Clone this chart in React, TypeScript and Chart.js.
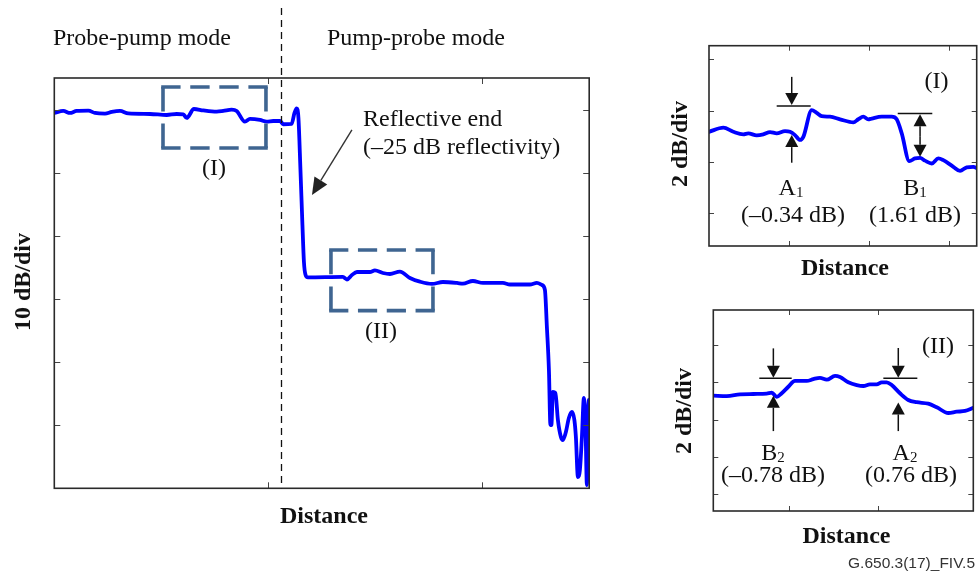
import React, { useEffect, useRef } from 'react';
import { Chart, registerables } from 'chart.js';

Chart.register(...registerables);

// ---------- data ----------
// Main trace (distance units 0..100, level in dB-like units 0..65, 10 units per division)
const mainDistance = [0, 1.68, 2.93, 4.19, 6.36, 7.61, 9.48, 10.73, 12.28, 13.83, 17.89, 21.01, 22.88, 24.11, 24.75, 26.11, 27.85, 30.36, 31.59, 33.16, 34.09, 35.64, 36.58, 38.45, 39.7, 40.93, 42.19, 42.8, 44.37, 44.9, 45.31, 45.64, 46.02, 46.39, 46.67, 46.95, 47.42, 53.96, 54.71, 55.64, 56.58, 59.01, 59.94, 61.44, 62.75, 64.61, 66.49, 68.36, 70.6, 72.65, 75.27, 76.39, 78.26, 80.13, 83.87, 85.18, 88.92, 90.22, 91.16, 91.72, 92.09, 92.47, 92.75, 92.93, 93.21, 93.68, 94.15, 94.71, 95.08, 95.64, 96.2, 96.77, 97.23, 97.51, 97.89, 98.26, 98.64, 99.01, 99.29, 99.57, 99.76, 99.94];
const mainLevel = [59.46, 59.78, 59.46, 59.78, 59.82, 59.46, 59.35, 59.62, 59.78, 59.38, 59.3, 59.14, 59.3, 59.25, 58.67, 60.09, 59.86, 59.67, 59.78, 59.98, 59.78, 58.08, 58.51, 58.35, 58.08, 58.19, 58.19, 57.67, 57.72, 59.46, 60.2, 58.67, 50.43, 41.71, 35.85, 33.87, 33.4, 33.48, 33.08, 33.79, 34.27, 34.27, 34.51, 34.11, 33.95, 34.32, 33.32, 32.73, 32.37, 32.68, 32.53, 32.41, 32.84, 32.53, 32.53, 32.29, 32.29, 32.53, 32.21, 31.42, 25.55, 18.74, 10.03, 10.03, 15.26, 15.1, 10.82, 8.13, 7.65, 8.92, 11.14, 12.09, 10.82, 8.13, 1.79, 2.9, 8.13, 14.31, 10.82, 0.52, 10.82, 13.99];
const mainXTicks = [40, 80];
const mainYTicks = [10, 20, 30, 40, 50, 60];

// Inset (I): zoom of region I, 2 dB per division
const inset1Distance = [0, 1.79, 3.04, 4.29, 4.91, 5.96, 6.79, 7.63, 8.46, 9.5, 10.13, 10.75, 11.38, 11.79, 12.84, 13.46, 14.09, 15.13, 16.38, 18.04, 18.66, 19.29, 19.91, 20.34, 21.59, 22.84, 23.46, 24.09, 25.04, 25.75, 26.38, 27.0, 27.84, 28.66, 29.29, 30.54, 31.38, 32.21, 33.04, 33.5];
const inset1Level = [3.17, 3.33, 3.17, 3.07, 3.11, 3.03, 3.07, 3.16, 3.11, 3.2, 3.17, 3.04, 2.85, 2.97, 4.02, 3.91, 3.78, 3.76, 3.66, 3.54, 3.66, 3.76, 3.66, 3.69, 3.76, 3.76, 3.66, 3.11, 2.02, 2.13, 2.15, 2.04, 1.93, 2.13, 2.06, 1.8, 1.64, 1.78, 1.8, 1.74];
const inset1XTicks = [10, 20, 30];
const inset1YTicks = [0, 2, 4, 6];

// Inset (II): zoom of region II
const inset2Distance = [1.49, 3.0, 4.49, 5.99, 7.49, 8.06, 8.62, 9.18, 9.92, 10.67, 11.99, 12.73, 13.48, 14.24, 15.17, 15.73, 16.66, 17.61, 18.35, 19.1, 19.85, 20.42, 20.98, 21.54, 22.47, 23.4, 24.35, 25.65, 26.6, 27.9, 28.84, 29.78, 30.71];
const inset2Level = [5.28, 5.26, 5.35, 5.37, 5.39, 5.44, 5.22, 5.41, 5.76, 6.07, 6.07, 6.17, 6.24, 6.14, 6.34, 6.28, 6.0, 5.85, 5.8, 5.89, 5.89, 6.0, 6.0, 5.85, 5.41, 5.05, 4.93, 4.85, 4.66, 4.35, 4.42, 4.46, 4.63];
const inset2XTicks = [10, 20];
const inset2YTicks = [0, 2, 4, 6, 8];

// ---------- drawing helpers ----------
type Conv = (v: number) => number;
type Annot = (ctx: CanvasRenderingContext2D, px: Conv, py: Conv) => void;

const SERIF = '"Liberation Serif", "Times New Roman", "DejaVu Serif", serif';
const SANS = '"Liberation Sans", Arial, sans-serif';

function arrow(ctx: CanvasRenderingContext2D, x1: number, y1: number, x2: number, y2: number, len = 12, half = 6.5) {
  const a = Math.atan2(y2 - y1, x2 - x1);
  const bx = x2 - len * Math.cos(a);
  const by = y2 - len * Math.sin(a);
  ctx.beginPath();
  ctx.moveTo(x1, y1);
  ctx.lineTo(bx, by);
  ctx.stroke();
  ctx.beginPath();
  ctx.moveTo(x2, y2);
  ctx.lineTo(bx + half * Math.sin(a), by - half * Math.cos(a));
  ctx.lineTo(bx - half * Math.sin(a), by + half * Math.cos(a));
  ctx.closePath();
  ctx.fill();
}

function seg(ctx: CanvasRenderingContext2D, x1: number, y1: number, x2: number, y2: number) {
  ctx.beginPath();
  ctx.moveTo(x1, y1);
  ctx.lineTo(x2, y2);
  ctx.stroke();
}

function dashedEdge(ctx: CanvasRenderingContext2D, x1: number, y1: number, x2: number, y2: number) {
  const L = Math.hypot(x2 - x1, y2 - y1);
  const n = Math.max(1, Math.round((L + 10) / 30));
  const g = L / (3 * n - 1);
  ctx.setLineDash([2 * g, g]);
  seg(ctx, x1, y1, x2, y2);
  ctx.setLineDash([]);
}

function dashedBox(ctx: CanvasRenderingContext2D, l: number, t: number, r: number, b: number) {
  const h = ctx.lineWidth / 2;
  dashedEdge(ctx, l - h, t, r + h, t);
  dashedEdge(ctx, l - h, b, r + h, b);
  dashedEdge(ctx, l, t, l, b);
  dashedEdge(ctx, r, t, r, b);
}

interface PlotProps {
  left: number; top: number; width: number; height: number;
  pad: { left: number; top: number; right: number; bottom: number };
  xs: number[]; ys: number[];
  xMin: number; xMax: number; yMin: number; yMax: number;
  xTicks: number[]; yTicks: number[]; tickLen: number;
  annotate: Annot;
}

function Plot(p: PlotProps) {
  const ref = useRef<HTMLCanvasElement | null>(null);
  useEffect(() => {
    const canvas = ref.current;
    if (!canvas) return;
    const chart = new Chart(canvas, {
      type: 'line',
      data: {
        datasets: [
          {
            data: p.xs.map((x, i) => ({ x, y: p.ys[i] })),
            borderColor: '#0000ff',
            borderWidth: 3.8,
            pointRadius: 0,
            cubicInterpolationMode: 'monotone',
            borderJoinStyle: 'round',
            borderCapStyle: 'round',
            fill: false,
          },
        ],
      },
      options: {
        animation: false,
        responsive: false,
        devicePixelRatio: 1,
        events: [],
        layout: { padding: p.pad },
        plugins: { legend: { display: false }, tooltip: { enabled: false }, title: { display: false } },
        scales: {
          x: { type: 'linear', min: p.xMin, max: p.xMax, display: false },
          y: { type: 'linear', min: p.yMin, max: p.yMax, display: false },
        },
      },
      plugins: [
        {
          id: 'frameAndNotes',
          afterDatasetsDraw(c: any) {
            const ctx: CanvasRenderingContext2D = c.ctx;
            const a = c.chartArea;
            const sx = c.scales.x;
            const sy = c.scales.y;
            const px = (v: number) => sx.getPixelForValue(v);
            const py = (v: number) => sy.getPixelForValue(v);
            ctx.save();
            // inward tick marks
            ctx.strokeStyle = '#444';
            ctx.lineWidth = 1;
            for (const v of p.xTicks) {
              const x = Math.round(px(v)) + 0.5;
              seg(ctx, x, a.top, x, a.top + p.tickLen);
              seg(ctx, x, a.bottom, x, a.bottom - p.tickLen);
            }
            for (const v of p.yTicks) {
              const y = Math.round(py(v)) + 0.5;
              seg(ctx, a.left, y, a.left + p.tickLen, y);
              seg(ctx, a.right, y, a.right - p.tickLen, y);
            }
            // frame
            ctx.strokeStyle = '#2a2a2a';
            ctx.lineWidth = 1.6;
            ctx.strokeRect(a.left, a.top, a.right - a.left, a.bottom - a.top);
            p.annotate(ctx, px, py);
            ctx.restore();
          },
        },
      ],
    } as any);
    return () => chart.destroy();
  }, []);
  return (
    <canvas
      ref={ref}
      width={p.width}
      height={p.height}
      style={{ position: 'absolute', left: p.left, top: p.top, width: p.width, height: p.height, display: 'block' }}
    />
  );
}

// ---------- annotations ----------
const mainNotes: Annot = (ctx, px, py) => {
  ctx.strokeStyle = '#3f6591';
  ctx.lineWidth = 3.6;
  dashedBox(ctx, px(20.32), py(63.58), px(39.57), py(53.91));
  dashedBox(ctx, px(51.72), py(37.75), px(70.79), py(28.14));
  ctx.strokeStyle = '#111';
  ctx.lineWidth = 1.3;
  ctx.setLineDash([7, 5]);
  seg(ctx, Math.round(px(42.37)) + 0.5, py(76.1), Math.round(px(42.37)) + 0.5, py(0));
  ctx.setLineDash([]);
  ctx.strokeStyle = '#333';
  ctx.fillStyle = '#222';
  ctx.lineWidth = 1.4;
  arrow(ctx, px(55.64), py(56.77), px(48.17), py(46.47), 17, 7.5);
};

const inset1Notes: Annot = (ctx, px, py) => {
  ctx.strokeStyle = '#111';
  ctx.fillStyle = '#111';
  ctx.lineWidth = 1.5;
  // A1
  arrow(ctx, px(10.34), py(5.32), px(10.34), py(4.22));
  seg(ctx, px(8.46), py(4.18), px(12.71), py(4.18));
  arrow(ctx, px(10.34), py(1.96), px(10.34), py(3.04));
  // B1
  seg(ctx, px(23.59), py(3.89), px(27.91), py(3.89));
  arrow(ctx, px(26.38), py(3.0), px(26.38), py(3.86));
  arrow(ctx, px(26.38), py(3.0), px(26.38), py(2.19));
};

const inset2Notes: Annot = (ctx, px, py) => {
  ctx.strokeStyle = '#111';
  ctx.fillStyle = '#111';
  ctx.lineWidth = 1.5;
  // B2
  arrow(ctx, px(8.24), py(7.82), px(8.24), py(6.24));
  seg(ctx, px(6.66), py(6.21), px(10.3), py(6.21));
  arrow(ctx, px(8.24), py(3.38), px(8.24), py(5.28));
  // A2
  arrow(ctx, px(22.28), py(7.84), px(22.28), py(6.24));
  seg(ctx, px(20.6), py(6.21), px(24.42), py(6.21));
  arrow(ctx, px(22.28), py(3.38), px(22.28), py(4.92));
};

// ---------- text ----------
interface LabelProps {
  x: number; y: number; size?: number; bold?: boolean; align?: 'left' | 'center' | 'right';
  family?: string; color?: string; children: React.ReactNode;
}

function Label({ x, y, size = 24, bold = false, align = 'left', family = SERIF, color = '#111', children }: LabelProps) {
  const k = family === SANS ? 0.8465 : 0.8375;
  const tx = align === 'center' ? 'translateX(-50%)' : align === 'right' ? 'translateX(-100%)' : undefined;
  return (
    <div
      style={{
        position: 'absolute', left: x, top: y - size * k, fontSize: size, lineHeight: `${size}px`,
        fontFamily: family, fontWeight: bold ? 'bold' : 'normal', color, whiteSpace: 'nowrap', transform: tx,
      }}
    >
      {children}
    </div>
  );
}

function VLabel({ cx, cy, children }: { cx: number; cy: number; children: React.ReactNode }) {
  return (
    <div
      style={{
        position: 'absolute', left: cx, top: cy, fontSize: 24, lineHeight: '24px', fontFamily: SERIF,
        fontWeight: 'bold', color: '#111', whiteSpace: 'nowrap', transform: 'translate(-50%, -50%) rotate(-90deg)',
      }}
    >
      {children}
    </div>
  );
}

const Sub = ({ children }: { children: React.ReactNode }) => (
  <span style={{ fontSize: 15, lineHeight: 0, position: 'relative', top: 2 }}>{children}</span>
);

export default function App() {
  return (
    <div style={{ position: 'fixed', left: 0, top: 0, width: 979, height: 582, background: '#fff', overflow: 'hidden' }}>
      <Plot
        left={0} top={0} width={620} height={582}
        pad={{ left: 54.3, top: 78, right: 30.8, bottom: 93.7 }}
        xs={mainDistance} ys={mainLevel}
        xMin={0} xMax={100} yMin={0} yMax={65}
        xTicks={mainXTicks} yTicks={mainYTicks} tickLen={6}
        annotate={mainNotes}
      />
      <Plot
        left={640} top={0} width={339} height={300}
        pad={{ left: 69, top: 45.7, right: 2.3, bottom: 54 }}
        xs={inset1Distance} ys={inset1Level}
        xMin={0} xMax={33.46} yMin={-1.3} yMax={6.54}
        xTicks={inset1XTicks} yTicks={inset1YTicks} tickLen={5}
        annotate={inset1Notes}
      />
      <Plot
        left={640} top={300} width={339} height={282}
        pad={{ left: 73.3, top: 10, right: 5.7, bottom: 71 }}
        xs={inset2Distance} ys={inset2Level}
        xMin={1.49} xMax={30.71} yMin={-0.91} yMax={9.88}
        xTicks={inset2XTicks} yTicks={inset2YTicks} tickLen={5}
        annotate={inset2Notes}
      />

      <Label x={53} y={45}>Probe-pump mode</Label>
      <Label x={327} y={45}>Pump-probe mode</Label>
      <Label x={363} y={126}>Reflective end</Label>
      <Label x={363} y={154.5}>(–25 dB reflectivity)</Label>
      <Label x={214} y={175} align="center">(I)</Label>
      <Label x={381} y={338} align="center">(II)</Label>
      <Label x={324} y={523.3} align="center" bold>Distance</Label>
      <VLabel cx={22} cy={282}>10 dB/div</VLabel>

      <Label x={936.5} y={88.3} align="center">(I)</Label>
      <Label x={791} y={195} align="center">A<Sub>1</Sub></Label>
      <Label x={793} y={221.7} align="center">(–0.34 dB)</Label>
      <Label x={915} y={195} align="center">B<Sub>1</Sub></Label>
      <Label x={915} y={221.7} align="center">(1.61 dB)</Label>
      <Label x={845} y={275} align="center" bold>Distance</Label>
      <VLabel cx={679} cy={144}>2 dB/div</VLabel>

      <Label x={938} y={353.3} align="center">(II)</Label>
      <Label x={773} y={460} align="center">B<Sub>2</Sub></Label>
      <Label x={773} y={481.7} align="center">(–0.78 dB)</Label>
      <Label x={905} y={460} align="center">A<Sub>2</Sub></Label>
      <Label x={911} y={481.7} align="center">(0.76 dB)</Label>
      <Label x={846.5} y={543.3} align="center" bold>Distance</Label>
      <VLabel cx={683} cy={411}>2 dB/div</VLabel>

      <Label x={975} y={568} align="right" size={15.5} family={SANS} color="#333">G.650.3(17)_FIV.5</Label>
    </div>
  );
}
